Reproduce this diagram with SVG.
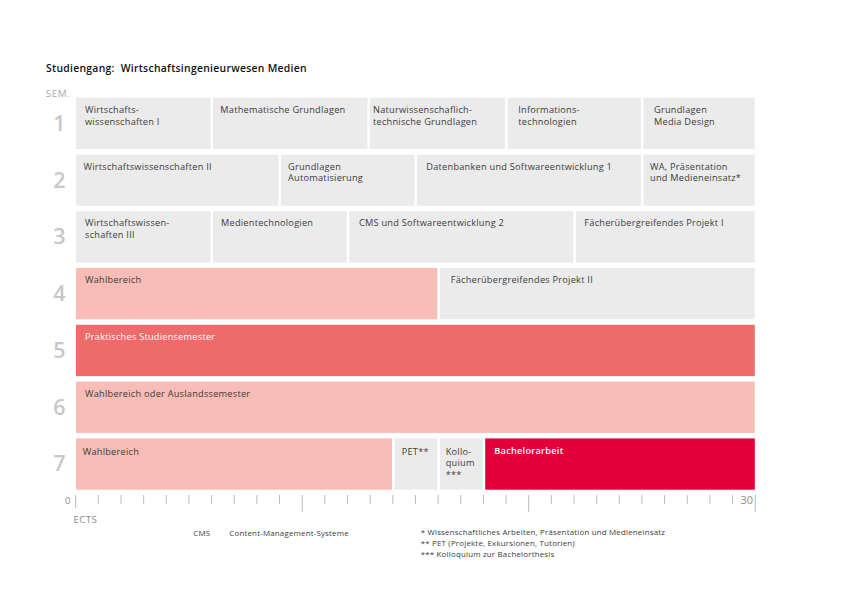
<svg xmlns="http://www.w3.org/2000/svg" width="842" height="595" viewBox="0 0 842 595">
<style>
text{font-family:"Open Sans","Noto Sans","Liberation Sans",sans-serif}
.g{fill:#ebebeb}
.p{fill:#f7bdb6}
.r{fill:#ee6b6b}
.b{fill:#e3003a}
.l{font-size:9.2px;font-weight:500;letter-spacing:0.25px;fill:#3c3c3c}
.w{fill:#ffffff}
.sem{font-size:21.5px;font-weight:600;fill:#c8c8c8;text-anchor:middle}
.ax{font-size:9.5px;fill:#8e8e8e}
.fn{font-size:7.9px;letter-spacing:0.2px;fill:#3c3c3c}
.t{stroke:#b8b8b8;stroke-width:1}
</style>
<rect width="842" height="595" fill="#ffffff"/>
<text x="46" y="72.3" style="font-size:10.4px;font-weight:600;letter-spacing:0.28px;fill:#111;white-space:pre" xml:space="preserve">Studiengang:  Wirtschaftsingenieurwesen Medien</text>
<text x="45.7" y="97.3" class="ax" style="font-size:9.8px;letter-spacing:0.6px;fill:#a8a8a8">SEM.</text>
<g id="semester-labels">
<text x="59.5" y="130.7" class="sem">1</text>
<text x="59.5" y="187.5" class="sem">2</text>
<text x="59.5" y="244.3" class="sem">3</text>
<text x="59.5" y="301" class="sem">4</text>
<text x="59.5" y="357.8" class="sem">5</text>
<text x="59.5" y="414.6" class="sem">6</text>
<text x="59.5" y="471.4" class="sem">7</text>
</g>
<!-- Row 1 -->
<g id="n-wiwi1"><rect class="g" x="76" y="97.7" width="134.5" height="51.3"/><text class="l" x="85" y="112.7">Wirtschafts-</text><text class="l" x="85" y="124.5">wissenschaften I</text></g>
<g id="n-mathe"><rect class="g" x="213" y="97.7" width="154.5" height="51.3"/><text class="l" x="220.3" y="112.7">Mathematische Grundlagen</text></g>
<g id="n-natur"><rect class="g" x="369.8" y="97.7" width="135.2" height="51.3"/><text class="l" x="373" y="112.7">Naturwissenschaflich-</text><text class="l" x="373" y="124.5">technische Grundlagen</text></g>
<g id="n-info"><rect class="g" x="507.7" y="97.7" width="133.3" height="51.3"/><text class="l" x="518.3" y="112.7">Informations-</text><text class="l" x="518.3" y="124.5">technologien</text></g>
<g id="n-media"><rect class="g" x="643.5" y="97.7" width="111.3" height="51.3"/><text class="l" x="654" y="112.7">Grundlagen</text><text class="l" x="654" y="124.5">Media Design</text></g>
<!-- Row 2 -->
<g id="n-wiwi2"><rect class="g" x="76" y="154.5" width="202.5" height="51.3"/><text class="l" x="83.5" y="169.5">Wirtschaftswissenschaften II</text></g>
<g id="n-auto"><rect class="g" x="281" y="154.5" width="133.5" height="51.3"/><text class="l" x="288" y="169.5">Grundlagen</text><text class="l" x="288" y="181.3">Automatisierung</text></g>
<g id="n-db"><rect class="g" x="417" y="154.5" width="224" height="51.3"/><text class="l" x="426.3" y="169.5">Datenbanken und Softwareentwicklung 1</text></g>
<g id="n-wa"><rect class="g" x="643.5" y="154.5" width="111.3" height="51.3"/><text class="l" x="650" y="169.5">WA, Präsentation</text><text class="l" x="650" y="181.3">und Medieneinsatz*</text></g>
<!-- Row 3 -->
<g id="n-wiwi3"><rect class="g" x="76" y="211.3" width="134.5" height="51.3"/><text class="l" x="85" y="226.3">Wirtschaftswissen-</text><text class="l" x="85" y="238.1">schaften III</text></g>
<g id="n-medtech"><rect class="g" x="213" y="211.3" width="133.7" height="51.3"/><text class="l" x="221" y="226.3">Medientechnologien</text></g>
<g id="n-cms"><rect class="g" x="349.3" y="211.3" width="224" height="51.3"/><text class="l" x="359" y="226.3">CMS und Softwareentwicklung 2</text></g>
<g id="n-fp1"><rect class="g" x="575.8" y="211.3" width="179" height="51.3"/><text class="l" x="584.3" y="226.3">Fächerübergreifendes Projekt I</text></g>
<!-- Row 4 -->
<g id="n-wahl4"><rect class="p" x="76" y="268" width="361.3" height="51.3"/><text class="l" x="85" y="283">Wahlbereich</text></g>
<g id="n-fp2"><rect class="g" x="440" y="268" width="314.8" height="51.3"/><text class="l" x="450.7" y="283">Fächerübergreifendes Projekt II</text></g>
<!-- Row 5 -->
<g id="n-praxis"><rect class="r" x="76" y="324.8" width="678.8" height="51.3"/><text class="l w" x="85" y="339.8">Praktisches Studiensemester</text></g>
<!-- Row 6 -->
<g id="n-wahl6"><rect class="p" x="76" y="381.6" width="678.8" height="51.3"/><text class="l" x="85" y="396.6">Wahlbereich oder Auslandssemester</text></g>
<!-- Row 7 -->
<g id="n-wahl7"><rect class="p" x="76" y="438.4" width="316" height="51.3"/><text class="l" x="82.7" y="454.5">Wahlbereich</text></g>
<g id="n-pet"><rect class="g" x="394.5" y="438.4" width="42.8" height="51.3"/><text class="l" x="401.7" y="454.5">PET**</text></g>
<g id="n-kollo"><rect class="g" x="440" y="438.4" width="42.7" height="51.3"/><text class="l" x="445.7" y="454.5">Kollo-</text><text class="l" x="445.7" y="466.3">quium</text><text class="l" x="445.7" y="478.1">***</text></g>
<g id="n-ba"><rect class="b" x="485.2" y="438.4" width="269.6" height="51.3"/><text class="l w" x="494.3" y="453.5" style="font-weight:600">Bachelorarbeit</text></g>
<g id="axis">
<line class="t" x1="75.7" y1="495" x2="75.7" y2="508"/>
<line class="t" x1="98.35" y1="495" x2="98.35" y2="503.7"/>
<line class="t" x1="121" y1="495" x2="121" y2="503.7"/>
<line class="t" x1="143.65" y1="495" x2="143.65" y2="503.7"/>
<line class="t" x1="166.3" y1="495" x2="166.3" y2="503.7"/>
<line class="t" x1="188.95" y1="495" x2="188.95" y2="503.7"/>
<line class="t" x1="211.6" y1="495" x2="211.6" y2="503.7"/>
<line class="t" x1="234.25" y1="495" x2="234.25" y2="503.7"/>
<line class="t" x1="256.9" y1="495" x2="256.9" y2="503.7"/>
<line class="t" x1="279.55" y1="495" x2="279.55" y2="503.7"/>
<line class="t" x1="302.2" y1="495" x2="302.2" y2="511.7"/>
<line class="t" x1="324.85" y1="495" x2="324.85" y2="503.7"/>
<line class="t" x1="347.5" y1="495" x2="347.5" y2="503.7"/>
<line class="t" x1="370.15" y1="495" x2="370.15" y2="503.7"/>
<line class="t" x1="392.8" y1="495" x2="392.8" y2="503.7"/>
<line class="t" x1="415.45" y1="495" x2="415.45" y2="503.7"/>
<line class="t" x1="438.1" y1="495" x2="438.1" y2="503.7"/>
<line class="t" x1="460.75" y1="495" x2="460.75" y2="503.7"/>
<line class="t" x1="483.4" y1="495" x2="483.4" y2="503.7"/>
<line class="t" x1="506.05" y1="495" x2="506.05" y2="503.7"/>
<line class="t" x1="528.7" y1="495" x2="528.7" y2="511.7"/>
<line class="t" x1="551.35" y1="495" x2="551.35" y2="503.7"/>
<line class="t" x1="574" y1="495" x2="574" y2="503.7"/>
<line class="t" x1="596.65" y1="495" x2="596.65" y2="503.7"/>
<line class="t" x1="619.3" y1="495" x2="619.3" y2="503.7"/>
<line class="t" x1="641.95" y1="495" x2="641.95" y2="503.7"/>
<line class="t" x1="664.6" y1="495" x2="664.6" y2="503.7"/>
<line class="t" x1="687.25" y1="495" x2="687.25" y2="503.7"/>
<line class="t" x1="709.9" y1="495" x2="709.9" y2="503.7"/>
<line class="t" x1="732.55" y1="495" x2="732.55" y2="503.7"/>
<line class="t" x1="755.2" y1="495" x2="755.2" y2="511.7"/>
<text class="ax" x="70.5" y="503.5" text-anchor="end">0</text>
<text class="ax" x="753" y="504.3" text-anchor="end" style="font-size:11px">30</text>
<text class="ax" x="73.5" y="522.7" style="font-size:9.8px;letter-spacing:0.3px">ECTS</text>
</g>
<g id="legend">
<text class="fn" x="193.3" y="535.5">CMS</text>
<text class="fn" x="229.3" y="535.5">Content-Management-Systeme</text>
<text class="fn" x="420.7" y="534.5">* Wissenschaftliches Arbeiten, Präsentation und Medieneinsatz</text>
<text class="fn" x="420.7" y="545.5">** PET (Projekte, Exkursionen, Tutorien)</text>
<text class="fn" x="420.7" y="556.5">*** Kolloquium zur Bachelorthesis</text>
</g>
</svg>
